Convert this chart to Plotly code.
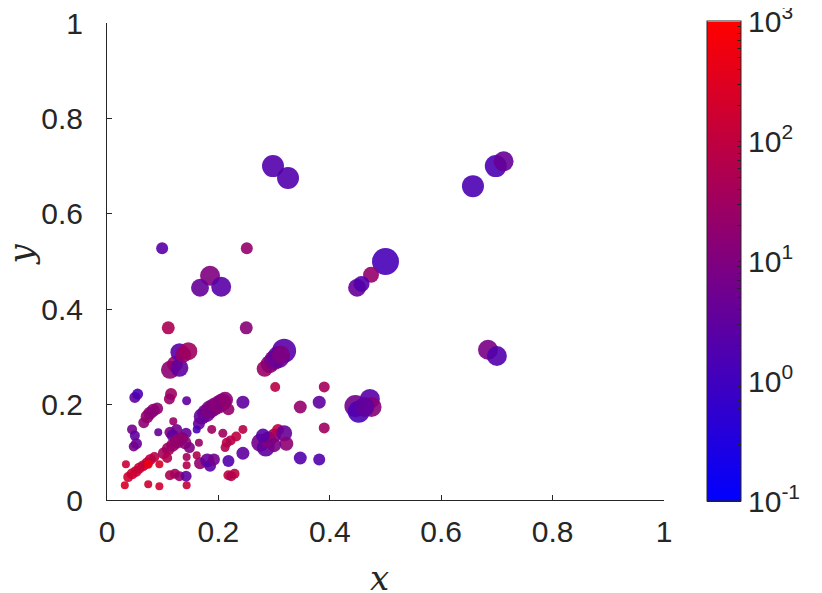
import numpy as np
import plotly.graph_objects as go

# point positions
x_vals = [0.298, 0.325, 0.657, 0.698, 0.712, 0.099, 0.251, 0.185, 0.167, 0.205,
          0.500, 0.474, 0.449, 0.457, 0.684, 0.700,
          0.110, 0.250, 0.113, 0.122, 0.130, 0.130, 0.137, 0.146,
          0.283, 0.292, 0.300, 0.308, 0.318, 0.312, 0.302, 0.390, 0.347, 0.381,
          0.390, 0.347, 0.381, 0.446, 0.452, 0.472, 0.475, 0.462,
          0.170, 0.178, 0.185, 0.192, 0.200, 0.207, 0.212, 0.218, 0.244, 0.165,
          0.050, 0.055, 0.115, 0.112, 0.143,
          0.066, 0.072, 0.077, 0.083, 0.090, 0.045, 0.050, 0.053, 0.048, 0.092, 0.119,
          0.113, 0.125, 0.142, 0.135, 0.118,
          0.102, 0.110, 0.118, 0.125, 0.132, 0.140, 0.148, 0.108,
          0.161, 0.165, 0.161, 0.143, 0.143, 0.188, 0.208, 0.215, 0.222, 0.232,
          0.212, 0.244, 0.244, 0.218, 0.167, 0.180, 0.185, 0.192,
          0.275, 0.285, 0.290, 0.300, 0.307, 0.318, 0.322, 0.280, 0.300,
          0.038, 0.045, 0.052, 0.058, 0.065, 0.072, 0.078, 0.085, 0.074, 0.034,
          0.032, 0.074, 0.094, 0.094, 0.113, 0.122, 0.130, 0.142, 0.143,
          0.218, 0.229, 0.223]
y_vals = [0.700, 0.675, 0.658, 0.700, 0.710, 0.528, 0.528, 0.470, 0.445, 0.447,
          0.500, 0.472, 0.445, 0.453, 0.315, 0.302,
          0.361, 0.361, 0.273, 0.285, 0.277, 0.310, 0.305, 0.312,
          0.275, 0.285, 0.293, 0.300, 0.313, 0.305, 0.237, 0.237, 0.195, 0.205,
          0.151, 0.088, 0.085, 0.197, 0.185, 0.212, 0.195, 0.195,
          0.175, 0.182, 0.190, 0.195, 0.200, 0.205, 0.210, 0.190, 0.205, 0.160,
          0.215, 0.222, 0.222, 0.212, 0.208,
          0.162, 0.175, 0.182, 0.188, 0.192, 0.148, 0.135, 0.118, 0.112, 0.142, 0.165,
          0.142, 0.148, 0.140, 0.130, 0.135,
          0.098, 0.107, 0.115, 0.122, 0.127, 0.120, 0.110, 0.088,
          0.148, 0.120, 0.094, 0.090, 0.073, 0.148, 0.140, 0.120, 0.125, 0.133,
          0.110, 0.148, 0.098, 0.082, 0.077, 0.083, 0.072, 0.085,
          0.120, 0.110, 0.127, 0.135, 0.147, 0.140, 0.118, 0.135, 0.115,
          0.048, 0.055, 0.060, 0.067, 0.072, 0.078, 0.085, 0.090, 0.075, 0.075,
          0.031, 0.033, 0.029, 0.075, 0.052, 0.055, 0.050, 0.050, 0.031,
          0.052, 0.055, 0.050]
# colour variable (log colour axis 1e-1 .. 1e3)
c_vals = [2.0, 2.0, 1.6, 1.6, 4.0, 2.5, 20, 10, 4.0, 2.5,
          1.3, 20, 4.0, 2.0, 7.9, 2.0,
          50, 13, 16, 25, 3.2, 2.5, 20, 32,
          25, 16, 7.9, 4.0, 2.5, 10, 79, 40, 20, 3.2,
          32, 2.0, 2.0, 6.3, 1.6, 2.5, 13, 3.2,
          4.0, 5.0, 10, 7.9, 16, 10, 16, 20, 3.2, 4.0,
          3.2, 1.6, 32, 25, 3.2,
          16, 20, 16, 13, 16, 6.3, 3.2, 4.0, 6.3, 4.0, 25,
          10, 6.3, 4.0, 10, 3.2,
          40, 32, 25, 20, 20, 16, 10, 63,
          1.6, 25, 63, 40, 63, 32, 32, 79, 63, 100,
          63, 79, 3.2, 2.0, 20, 4.0, 2.5, 6.3,
          6.3, 3.2, 13, 25, 100, 4.0, 16, 2.5, 7.9,
          200, 158, 158, 126, 126, 100, 100, 79, 500, 158,
          251, 158, 200, 251, 50, 40, 25, 3.2, 126,
          100, 100, 63]
# bubble size
s_vals = [22, 22, 22, 22, 20, 12, 12, 20, 18, 20,
          27, 16, 18, 16, 20, 20,
          13, 13, 18, 16, 18, 18, 16, 18,
          16, 18, 20, 22, 24, 18, 10, 11, 13, 13,
          11, 13, 12, 22, 22, 20, 20, 20,
          16, 18, 18, 18, 18, 18, 16, 12, 13, 12,
          11, 11, 12, 11, 9,
          11, 13, 13, 13, 12, 10, 10, 11, 10, 8, 8,
          11, 11, 11, 12, 12,
          12, 13, 13, 14, 13, 13, 11, 10,
          8, 8, 8, 8, 8, 9, 9, 10, 10, 10,
          9, 9, 13, 12, 12, 14, 12, 12,
          18, 18, 16, 14, 12, 16, 14, 14, 14,
          10, 11, 11, 11, 11, 11, 11, 10, 9, 8,
          8, 8, 8, 8, 10, 10, 10, 11, 8,
          10, 10, 10]

axis_ticks = [0, 0.2, 0.4, 0.6, 0.8, 1]
axis_ticktext = ["0", "0.2", "0.4", "0.6", "0.8", "1"]
cbar_exponents = [-1, 0, 1, 2, 3]

# colorbar ticks: majors labelled, minors blank
cb_vals, cb_text = [], []
for e in cbar_exponents:
    cb_vals.append(e)
    cb_text.append("10<sup>%d</sup>" % e)
    if e < 3:
        for m in range(2, 10):
            cb_vals.append(e + np.log10(m))
            cb_text.append(" ")

font_col = "#262626"
tick_font = dict(size=30, color=font_col, family="Liberation Sans")

fig = go.Figure()
fig.add_trace(go.Scatter(
    x=x_vals, y=y_vals, mode="markers",
    marker=dict(
        size=s_vals,
        color=np.log10(c_vals),
        cmin=-1, cmax=3,
        colorscale=[[0, "rgb(0,0,255)"], [1, "rgb(255,0,0)"]],
        opacity=0.9,
        line=dict(width=0),
        showscale=True,
        colorbar=dict(
            tickvals=cb_vals, ticktext=cb_text,
            ticks="inside", ticklen=4, tickcolor=font_col,
            ticklabeloverflow="allow",
            thickness=34, thicknessmode="pixels",
            len=480, lenmode="pixels",
            x=1.077, xanchor="left", xpad=0,
            y=0.5, yanchor="middle", ypad=0,
            outlinecolor=font_col, outlinewidth=1,
            tickfont=tick_font,
        ),
    ),
    showlegend=False,
))

axis_common = dict(
    range=[0, 1], tickvals=axis_ticks, ticktext=axis_ticktext,
    showgrid=False, zeroline=False, showline=True, linecolor=font_col, linewidth=1,
    ticks="inside", ticklen=5, tickcolor=font_col,
    tickfont=tick_font, automargin=False, ticklabeloverflow="allow",
)

# page body has an 8px default margin, so the figure is sized to fit inside it
fig.update_layout(
    width=814, height=585,
    plot_bgcolor="white", paper_bgcolor="white",
    margin=dict(l=99, r=158, t=15, b=93),
    xaxis=dict(axis_common, ticklabelstandoff=5),
    yaxis=dict(axis_common, ticklabelstandoff=17),
    annotations=[
        dict(text="<i>x</i>", x=0.49, y=-0.164, xref="paper", yref="paper",
             xanchor="center", yanchor="middle", showarrow=False,
             font=dict(size=34, color=font_col, family="DejaVu Serif")),
        dict(text="<i>y</i>", x=-0.155, y=0.514, xref="paper", yref="paper",
             xanchor="center", yanchor="middle", showarrow=False, textangle=-90,
             font=dict(size=34, color=font_col, family="DejaVu Serif")),
    ],
)

fig.write_html("out.html")
